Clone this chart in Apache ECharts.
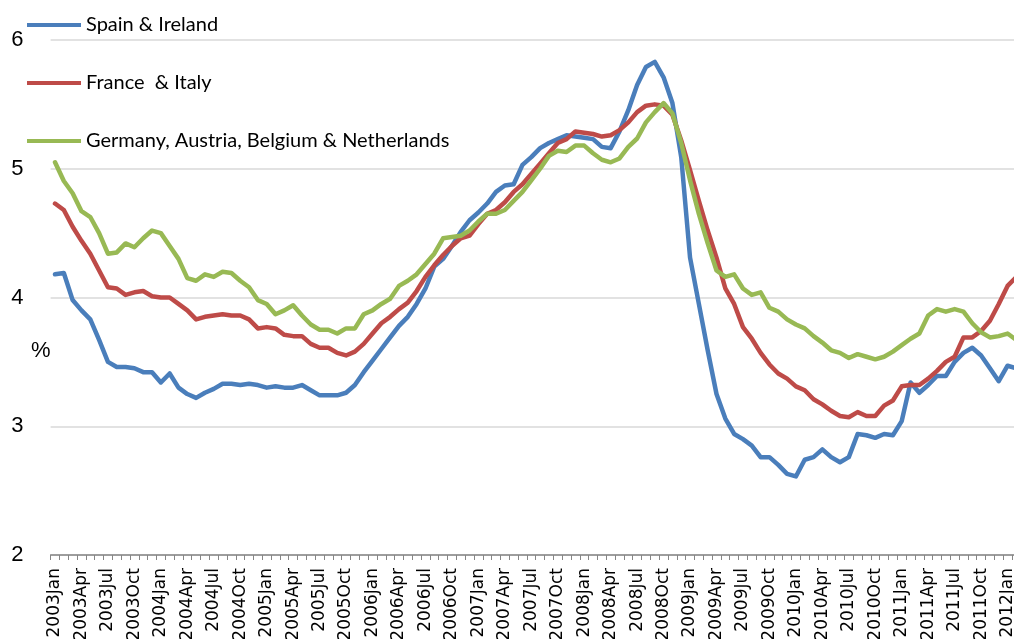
<!DOCTYPE html>
<html>
<head>
<meta charset="utf-8">
<script src="https://cdn.jsdelivr.net/npm/echarts@6/dist/echarts.min.js"></script>
<style>
html,body{margin:0;padding:0;background:#fff;}
#chart{width:1014px;height:639px;}
</style>
</head>
<body>
<div id="chart"></div>
<script>
// ---- data ----
var years = [2003, 2004, 2005, 2006, 2007, 2008, 2009, 2010, 2011, 2012];
var monthNames = ['Jan','Feb','Mar','Apr','May','Jun','Jul','Aug','Sep','Oct','Nov','Dec'];
var seriesNames = ['Spain & Ireland', 'France  & Italy', 'Germany, Austria, Belgium & Netherlands'];
var yTicks = [2, 3, 4, 5, 6];

var spainIreland = [
  4.18,4.19,3.98,3.90,3.83,3.67,3.50,3.46,3.46,3.45,3.42,3.42,
  3.34,3.41,3.30,3.25,3.22,3.26,3.29,3.33,3.33,3.32,3.33,3.32,
  3.30,3.31,3.30,3.30,3.32,3.28,3.24,3.24,3.24,3.26,3.32,3.42,
  3.51,3.60,3.69,3.78,3.85,3.95,4.07,4.24,4.30,4.40,4.51,4.60,
  4.66,4.73,4.82,4.87,4.88,5.03,5.09,5.16,5.20,5.23,5.26,5.25,
  5.24,5.23,5.17,5.16,5.29,5.455,5.65,5.79,5.83,5.71,5.51,5.09,
  4.31,3.95,3.59,3.25,3.06,2.94,2.90,2.85,2.76,2.76,2.70,2.63,
  2.61,2.74,2.76,2.82,2.76,2.72,2.76,2.94,2.93,2.91,2.94,2.93,
  3.04,3.34,3.26,3.32,3.39,3.39,3.50,3.57,3.61,3.55,3.45,3.35,
  3.47,3.45
];
var franceItaly = [
  4.73,4.68,4.55,4.44,4.34,4.21,4.08,4.07,4.02,4.04,4.05,4.01,
  4.00,4.00,3.95,3.90,3.83,3.85,3.86,3.87,3.86,3.86,3.83,3.76,
  3.77,3.76,3.71,3.70,3.70,3.64,3.61,3.61,3.57,3.55,3.58,3.64,
  3.72,3.80,3.85,3.91,3.96,4.05,4.16,4.25,4.33,4.40,4.46,4.48,
  4.57,4.65,4.68,4.74,4.82,4.88,4.96,5.04,5.12,5.20,5.23,5.29,
  5.28,5.27,5.25,5.26,5.30,5.36,5.44,5.49,5.50,5.49,5.42,5.22,
  4.99,4.75,4.52,4.31,4.07,3.95,3.77,3.68,3.57,3.48,3.41,3.37,
  3.31,3.28,3.21,3.17,3.12,3.08,3.07,3.11,3.08,3.08,3.16,3.20,
  3.31,3.32,3.32,3.37,3.43,3.50,3.54,3.69,3.69,3.74,3.82,3.95,
  4.09,4.16
];
var germanyEtc = [
  5.05,4.905,4.81,4.67,4.625,4.50,4.34,4.35,4.42,4.39,4.46,4.52,
  4.50,4.40,4.30,4.15,4.13,4.18,4.16,4.20,4.19,4.13,4.08,3.98,
  3.95,3.87,3.90,3.94,3.86,3.79,3.75,3.75,3.72,3.76,3.76,3.87,
  3.90,3.95,3.99,4.09,4.13,4.18,4.26,4.34,4.46,4.47,4.48,4.52,
  4.59,4.65,4.65,4.68,4.75,4.82,4.91,5.00,5.10,5.14,5.13,5.18,
  5.18,5.12,5.07,5.05,5.08,5.17,5.235,5.36,5.44,5.51,5.43,5.20,
  4.91,4.65,4.42,4.21,4.16,4.18,4.07,4.02,4.04,3.92,3.89,3.83,
  3.79,3.76,3.70,3.65,3.59,3.57,3.53,3.56,3.54,3.52,3.54,3.58,
  3.63,3.68,3.72,3.86,3.91,3.89,3.91,3.89,3.80,3.73,3.69,3.70,
  3.72,3.67
];

// category labels (one per month, same length as the series)
var categories = [];
for (var k = 0; k < spainIreland.length; k++) {
  categories.push(years[Math.floor(k / 12)] + monthNames[k % 12]);
}

var colors = ['#4a7ebb', '#be4b48', '#98b954'];

var chart = echarts.init(document.getElementById('chart'), null, {renderer: 'canvas'});
var option = {
  animation: false,
  backgroundColor: '#ffffff',
  color: colors,
  grid: {left: 50.6, right: -6.8, top: 40, bottom: 84, containLabel: false, outerBoundsMode: 'none'},
  legend: {
    orient: 'vertical',
    left: 27,
    top: 15,
    padding: 0,
    itemWidth: 54,
    itemHeight: 4,
    itemGap: 38,
    icon: 'rect',
    data: seriesNames,
    textStyle: {fontFamily: 'Lato', fontSize: 20, color: '#000', lineHeight: 20}
  },
  graphic: [{
    type: 'text',
    left: 31,
    top: 340,
    style: {text: '%', fontFamily: 'Liberation Sans', fontSize: 22, fill: '#000'}
  }],
  xAxis: {
    type: 'category',
    data: categories,
    boundaryGap: true,
    axisLine: {lineStyle: {color: '#868686', width: 1.5}},
    axisTick: {show: true, interval: 0, length: 5, lineStyle: {color: '#868686', width: 1}},
    axisLabel: {
      interval: 2,
      rotate: 90,
      margin: 13,
      fontFamily: 'DejaVu Sans',
      fontSize: 17,
      color: '#000'
    },
    splitLine: {show: false}
  },
  yAxis: {
    type: 'value',
    min: yTicks[0],
    max: yTicks[yTicks.length - 1],
    interval: 1,
    axisLine: {show: false},
    axisTick: {show: false},
    axisLabel: {margin: 27, fontFamily: 'Liberation Sans', fontSize: 22, color: '#000'},
    splitLine: {lineStyle: {color: '#d9d9d9', width: 1.5}}
  },
  series: [
    {name: seriesNames[0], type: 'line', data: spainIreland, showSymbol: false, symbol: 'none',
     lineStyle: {width: 4.5, color: colors[0], cap: 'round', join: 'round'}},
    {name: seriesNames[1], type: 'line', data: franceItaly, showSymbol: false, symbol: 'none',
     lineStyle: {width: 4.5, color: colors[1], cap: 'round', join: 'round'}},
    {name: seriesNames[2], type: 'line', data: germanyEtc, showSymbol: false, symbol: 'none',
     lineStyle: {width: 4.5, color: colors[2], cap: 'round', join: 'round'}}
  ]
};
chart.setOption(option);
</script>
</body>
</html>
